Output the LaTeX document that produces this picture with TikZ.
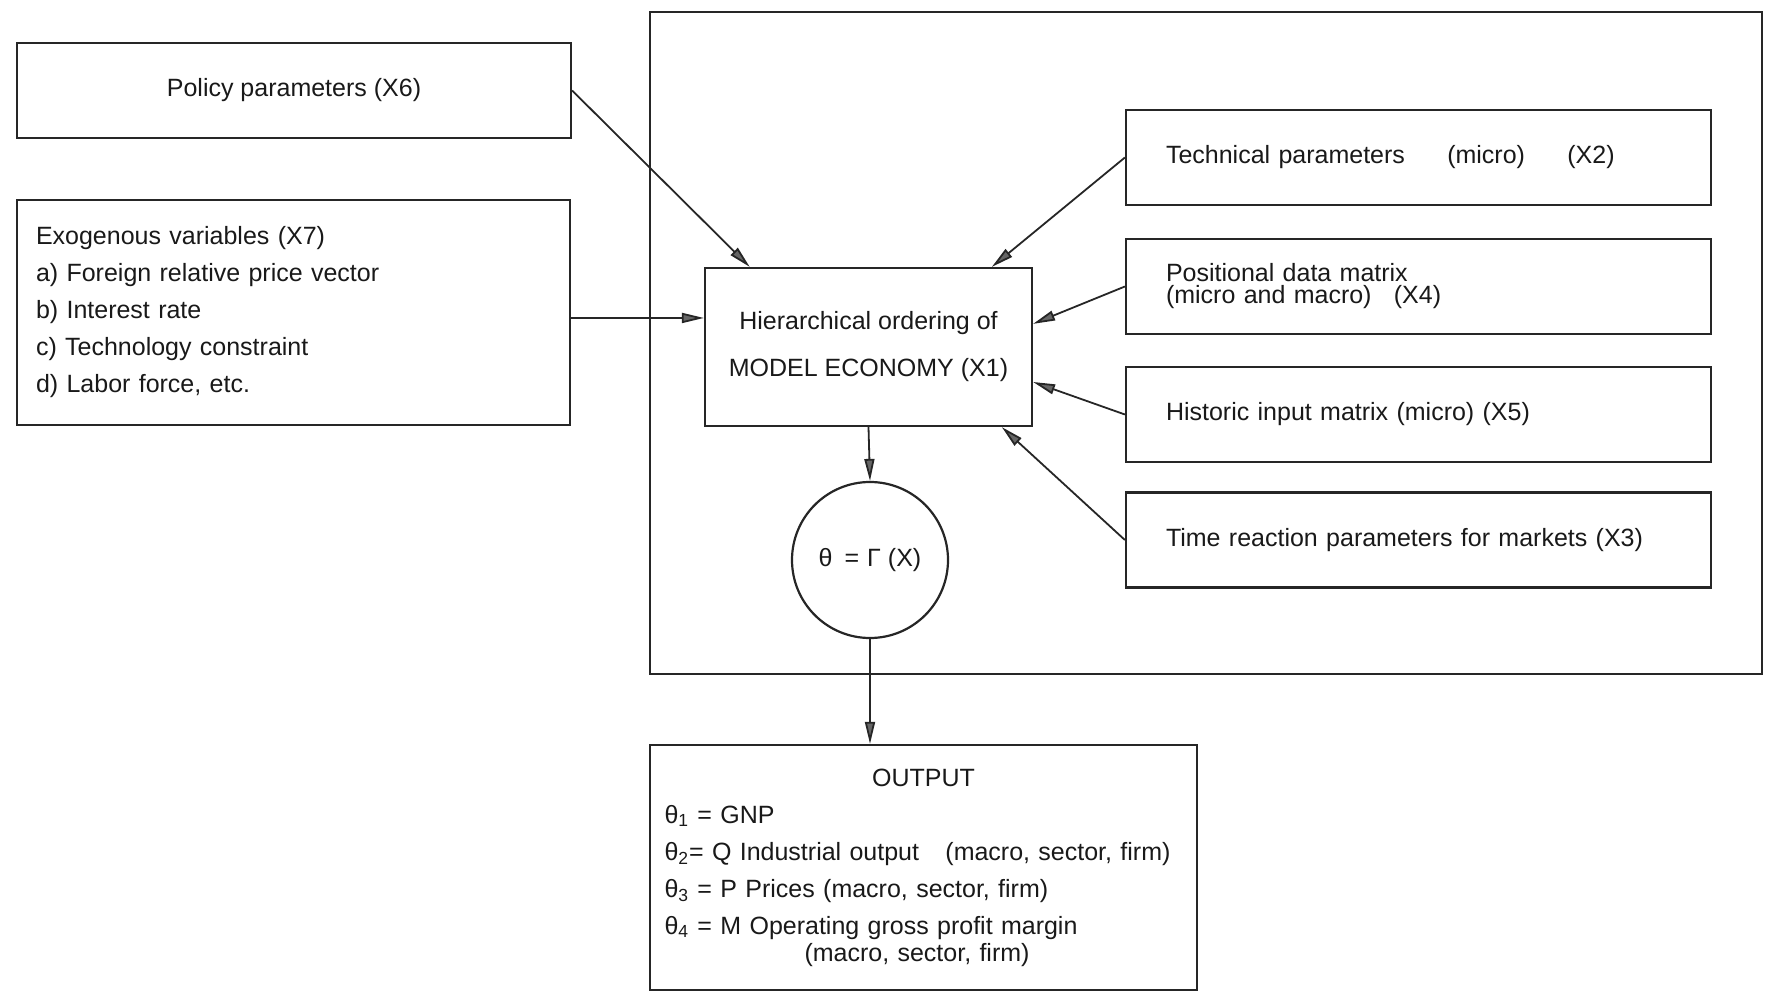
\documentclass[tikz,border=0pt]{standalone}
\usepackage{fontspec}
\setmainfont{Liberation Sans}
\usetikzlibrary{arrows.meta}
\tikzset{every node/.style={font=\fontsize{12.5}{18.5}\selectfont, text=black!90}, box/.style={draw=black!85, line width=1.1pt, rectangle, inner sep=0pt}, inbox/.style={box, minimum width=292.5pt, minimum height=47.5pt, text width=252.5pt, align=left}, arr/.style={draw=black!85, line width=0.9pt, -{Triangle[length=11pt,width=5pt,fill=black!60]}}}

\begin{document}
\begin{tikzpicture}[x=0.5pt,y=-0.5pt]
  \useasboundingbox (0,0) rectangle (1778,1005);
  \node[box, minimum width=556pt, minimum height=331pt] (frame) at (1206,343) {};
  \node[box, minimum width=277pt, minimum height=47.5pt] (policy) at (294,90.5) {\raisebox{-2pt}{Policy parameters (X6)}};
  \node[box, minimum width=276.5pt, minimum height=112.5pt, text width=257.5pt, align=left] (exog) at (293.5,312.5) {Exogenous variables (X7)\\a) Foreign relative price vector\\b) Interest rate\\c) Technology constraint\\d) Labor force, etc.};
  \node[box, minimum width=163.5pt, minimum height=79pt, align=center, font=\fontsize{12.5}{23.5}\selectfont] (model) at (868.5,347) {Hierarchical ordering of\\MODEL ECONOMY (X1)};
  \foreach \n/\y/\t in {tech/157.5/{Technical parameters\hspace{17pt} (micro)\hspace{17pt} (X2)}, pos/286.5/{Positional data matrix\\[-7.5pt](micro and macro)\hspace{7pt} (X4)}, hist/414.5/{Historic input matrix (micro) (X5)}, time/540/{Time reaction parameters for markets (X3)}}
    \node[inbox] (\n) at (1418.5,\y) {\t};
  \draw[arr] (policy.east) -- (model.146);
  \draw[arr] (exog.east |- model.170) -- (model.170);
  \foreach \n/\a in {tech/33,pos/8,hist/-12,time/-31}
    \draw[arr] (\n.west) -- (model.\a);
  \node[draw=black!85, circle, line width=1.1pt, minimum size=78pt, inner sep=0pt] (theta) at (870,560) {θ\hspace{6pt}=\hspace{4pt}Γ (X)};
  \draw[arr] (model.south) -- (theta.north);
  \node[box, minimum width=273.5pt, minimum height=122.5pt, text width=259pt, align=left] (output) at (923.5,867.5) {\makebox[259pt]{OUTPUT}\\θ\textsubscript{1} = GNP\\θ\textsubscript{2}= Q Industrial output\hspace{9pt} (macro, sector, firm)\\θ\textsubscript{3} = P Prices (macro, sector, firm)\\θ\textsubscript{4} = M Operating gross profit margin\\[-5pt]\hspace*{70pt}(macro, sector, firm)};
  \draw[arr] (theta.south) -- (theta.south |- output.north);
\end{tikzpicture}
\end{document}
